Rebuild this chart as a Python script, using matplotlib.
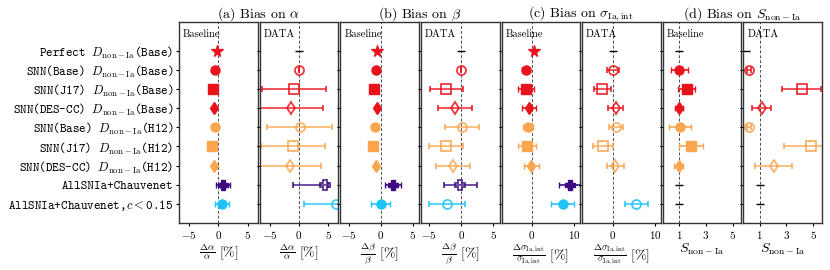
import numpy as np
import matplotlib.pyplot as plt

plt.rcParams['font.family'] = 'cmr10'
plt.rcParams['mathtext.fontset'] = 'cm'
plt.rcParams['axes.formatter.use_mathtext'] = True

row_labels = ['Perfect $D_{\\rm non-Ia}$(Base)',
              'SNN(Base) $D_{\\rm non-Ia}$(Base)',
              'SNN(J17) $D_{\\rm non-Ia}$(Base)',
              'SNN(DES-CC) $D_{\\rm non-Ia}$(Base)',
              'SNN(Base) $D_{\\rm non-Ia}$(H12)',
              'SNN(J17) $D_{\\rm non-Ia}$(H12)',
              'SNN(DES-CC) $D_{\\rm non-Ia}$(H12)',
              'AllSNIa+Chauvenet',
              'AllSNIa+Chauvenet,$c<$0.15']
red, orange, purple, cyan = '#e8141c', '#fba64f', '#3d0a82', '#1fc3f7'
colors = [red, red, red, red, orange, orange, orange, purple, cyan]
markers = ['*', 'o', 's', 'd', 'o', 's', 'd', 'P', 'o']

# values in percent (alpha, beta, sigma_int) or absolute (S_non-Ia)
# None: nothing drawn; rows in *_na: no measurement, drawn as a black dash
alpha_base = [-0.2, -0.5, -0.9, -0.75, -0.55, -1.05, -0.8, 0.8, 0.55]
alpha_base_err = [0, 0, 0, 0, 0, 0, 0, 1.25, 1.2]
alpha_data = [0, 0.0, -0.9, -1.4, 0.1, -0.95, -1.6, 4.4, 6.3]
alpha_data_err = [0, 0, 5.45, 5.5, 5.6, 5.45, 5.3, (5.4, 0.5), 5.4]

beta_base = [-0.5, -0.7, -1.0, -0.5, -0.8, -1.2, -0.65, 1.95, 0.0]
beta_base_err = [0, 0, 0, 0, 0, 0, 0, 1.2, 1.5]
beta_data = [0, 0.0, -2.3, -0.9, 0.1, -2.4, -1.25, -0.15, -2.2]
beta_data_err = [0, 0, 2.6, 2.65, 2.65, 2.65, 2.65, 2.55, 2.85]

sig_base = [0.4, -1.45, -1.45, -0.75, -1.0, -1.15, -0.15, 8.9, 7.3]
sig_base_err = [0, 0.95, 1.85, 1.6, 1.2, 2.1, 1.8, 2.4, 2.75]
sig_data = [0, 0.1, -2.4, 0.7, 0.8, -2.3, 0.65, None, 5.6]
sig_data_err = [0, 1.45, 1.95, 1.8, 1.75, 2.3, 2.0, 0, 2.75]

s_base = [1, 1.02, 1.58, 1.0, 1.07, 1.9, 1.0, 1, 1]
s_base_err = [0, 0.63, 0.65, 0.32, 0.84, 0.9, 0.33, 0, 0]
s_data = [0, 0.2, 4.15, 1.15, 0.2, 4.8, 2.05, 1, 1]
s_data_err = [0, 0.15, 1.45, 0.72, 0.15, 2.0, 1.4, 0, 0]

data_na = [0]
s_base_na = [0, 7, 8]
s_data_na = [0, 7, 8]

titles = ['(a) Bias on $\\alpha$', '(b) Bias on $\\beta$',
          '(c) Bias on $\\sigma_{\\rm Ia,int}$', '(d) Bias on $S_{\\rm non-Ia}$']
xlabels = ['$\\frac{\\Delta\\alpha}{\\alpha}\\ [\\%]$',
           '$\\frac{\\Delta\\beta}{\\beta}\\ [\\%]$',
           '$\\frac{\\Delta\\sigma_{\\rm Ia,int}}{\\sigma_{\\rm Ia,int}}\\ [\\%]$',
           '$S_{\\rm non-Ia}$']

panels = [
    (alpha_base, alpha_base_err, [], True, 0),
    (alpha_data, alpha_data_err, data_na, False, 0),
    (beta_base, beta_base_err, [], True, 1),
    (beta_data, beta_data_err, data_na, False, 1),
    (sig_base, sig_base_err, [], True, 2),
    (sig_data, sig_data_err, data_na, False, 2),
    (s_base, s_base_err, s_base_na, True, 3),
    (s_data, s_data_err, s_data_na, False, 3),
]
xlims = [(-6.7, 6.7), (-6.3, 6.0), (-7.2, 11.4), (-0.2, 5.65)]
xticks = [[-5, 0, 5], [-5, 0, 5], [0, 10], [1, 3, 5]]
refs = [0, 0, 0, 1]

fig, axes = plt.subplots(1, 8, figsize=(8.3, 2.7), dpi=100, sharey=True)
fig.subplots_adjust(left=0.2157, right=0.9904, top=0.9185, bottom=0.1741, wspace=0.025)

for k, (ax, (vals, errs, na, base, q)) in enumerate(zip(axes, panels)):
    ax.axvline(refs[q], color='0.3', ls=(0, (3, 2)), lw=0.7, zorder=0)
    for i in range(len(row_labels)):
        v = vals[i]
        if v is None:
            continue
        if i in na:
            ax.plot(v, i, marker='_', color='k', ms=6, mew=1.0)
            continue
        e = errs[i]
        xerr = [[e[0]], [e[1]]] if isinstance(e, tuple) else e
        ms = 8.5 if markers[i] == '*' else 6.5
        if base:
            ax.errorbar(v, i, xerr=xerr, fmt=markers[i], color=colors[i], ms=ms,
                        capsize=2, elinewidth=1.2, capthick=1.0)
        else:
            ax.errorbar(v, i, xerr=xerr, fmt=markers[i], color=colors[i], ms=ms,
                        mfc='none', mew=1.3, capsize=2, elinewidth=1.2,
                        capthick=1.0, alpha=0.85)
    ax.set_xlim(*xlims[q])
    ax.set_xticks(xticks[q])
    ax.set_ylim(9, -1.5)
    ax.set_xlabel(xlabels[q], fontsize=10, labelpad=1)
    ax.tick_params(axis='both', direction='out', length=2.5, width=0.8, labelsize=8, pad=1.5)
    for sp in ax.spines.values():
        sp.set_linewidth(1.0)
        sp.set_color('#333333')
    ax.text(0.05, 0.94, 'Baseline' if base else 'DATA', transform=ax.transAxes,
            fontsize=7.5, va='center', ha='left')

axes[0].set_yticks(range(len(row_labels)))
axes[0].set_yticklabels(row_labels)
for t in axes[0].get_yticklabels():
    t.set_fontfamily('cmtt10')
    t.set_fontsize(9)

for q in range(4):
    l = axes[2 * q].get_position()
    r = axes[2 * q + 1].get_position()
    fig.text((l.x0 + r.x1) / 2, 0.948, titles[q], ha='center', va='center', fontsize=10)

plt.savefig('out.png', dpi=100)
